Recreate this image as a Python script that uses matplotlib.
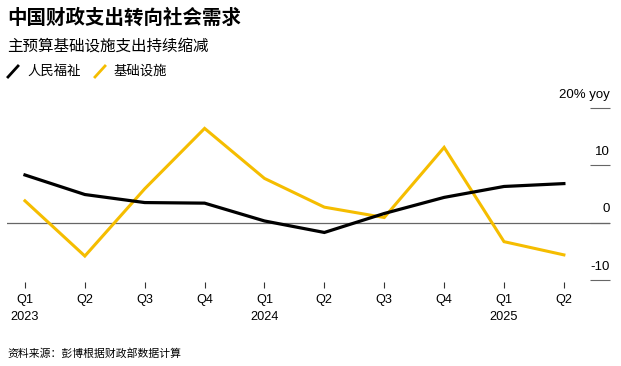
import matplotlib
matplotlib.use("Agg")
import matplotlib.pyplot as plt
from matplotlib.lines import Line2D

plt.rcParams["font.family"] = ["Noto Sans CJK SC", "DejaVu Sans"]
LATIN = ["Liberation Sans", "DejaVu Sans"]

# data: year-on-year growth, %
quarters = ["Q1\n2023", "Q2", "Q3", "Q4", "Q1\n2024", "Q2", "Q3", "Q4", "Q1\n2025", "Q2"]
welfare = [8.3, 4.9, 3.5, 3.4, 0.3, -1.7, 1.6, 4.4, 6.3, 6.8]
infrastructure = [3.8, -5.8, 5.9, 16.4, 7.7, 2.7, 0.9, 13.1, -3.3, -5.6]
y_ticks = [-10, 0, 10, 20]
y_labels = ["-10", "0", "10", "20% yoy"]

BLACK = "#000000"
YELLOW = "#f5bd00"
GRAY = "#666666"

W, H = 621, 366
fig = plt.figure(figsize=(W / 100, H / 100), dpi=100)
ax = fig.add_axes([7 / W, (H - 288) / H, 603 / W, 198 / H])

x = range(len(quarters))
ax.axhline(0, color=GRAY, lw=0.9, zorder=1)
ax.plot(x, infrastructure, color=YELLOW, lw=2.2, solid_joinstyle="miter", zorder=2)
ax.plot(x, welfare, color=BLACK, lw=2.3, solid_joinstyle="miter", zorder=3)

ax.set_xlim(-0.30, 9.77)
ax.set_ylim(-11.36, 23.08)
for s in ax.spines.values():
    s.set_visible(False)

ax.set_xticks(list(x))
ax.set_xticklabels(quarters, fontsize=9.2, family=LATIN, linespacing=1.55)
ax.tick_params(axis="x", direction="in", length=4.3, width=0.8, color="#333333", pad=4)

ax.yaxis.tick_right()
ax.set_yticks(y_ticks)
ax.tick_params(axis="y", direction="in", length=14.4, width=0.8, color=GRAY, labelright=False)
for v, lab in zip(y_ticks, y_labels):
    ax.annotate(lab, xy=(1.0, v), xycoords=("axes fraction", "data"),
                xytext=(0, 9.5), textcoords="offset points",
                ha="right", va="center", fontsize=9.5, family=LATIN)

# title block
fig.text(7 / W, 1 - 18 / H, "中国财政支出转向社会需求", fontsize=14, fontweight="bold", va="center")
fig.text(7 / W, 1 - 46 / H, "主预算基础设施支出持续缩减", fontsize=11.2, va="center")

# legend
for x0, col, lab in [(8, BLACK, "人民福祉"), (95, YELLOW, "基础设施")]:
    fig.add_artist(Line2D([x0 / W, (x0 + 10) / W], [1 - 77 / H, 1 - 66 / H],
                          color=col, lw=2.0, transform=fig.transFigure))
    fig.text((x0 + 19) / W, 1 - 71 / H, lab, fontsize=9.6, va="center")

fig.text(7 / W, 1 - 354 / H, "资料来源：彭博根据财政部数据计算", fontsize=7.8, va="center")

fig.savefig("out.png", dpi=100)
